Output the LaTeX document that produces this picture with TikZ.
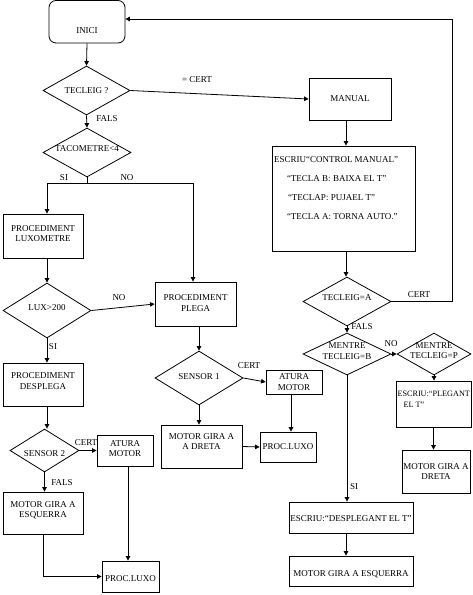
\documentclass[tikz,border=0pt]{standalone}
\usepackage{fontspec}
\setmainfont{Liberation Serif}
\usetikzlibrary{shapes.geometric,arrows.meta}
% zero-size centred text block, raised by #1 (up positive)
\newcommand\zc[2][0pt]{\makebox[0pt]{\raisebox{\dimexpr#1-3pt\relax}[0pt][0pt]{\begin{tabular}{@{}c@{}}#2\end{tabular}}}}
% zero-size left-aligned text block of width #2
\newcommand\zl[3][0pt]{\makebox[0pt]{\raisebox{\dimexpr#1-3pt\relax}[0pt][0pt]{\begin{tabular}{@{}p{#2}@{}}#3\end{tabular}}}}
\tikzset{
  every node/.style={font=\fontsize{9}{10.5}\selectfont},
  box/.style={draw,rectangle,line width=0.8pt,inner sep=0pt},
  dia/.style={draw,diamond,line width=0.8pt,inner sep=0pt},
  arr/.style={line width=0.8pt,-{Triangle[length=4.5pt,width=4.5pt]}},
  ln/.style={line width=0.8pt},
  lbl/.style={inner sep=0pt}
}
\begin{document}
\begin{tikzpicture}[x=1pt,y=-1pt]
\useasboundingbox (0,0) rectangle (473,595);
% top / right column
\node[box,rounded corners=7pt,minimum width=76pt,minimum height=42.5pt] (inici) at (87,21.75) {\zc[-9pt]{INICI}};
\node[dia,minimum width=87pt,minimum height=49pt] (teclq) at (86.5,90.5) {\zc{TECLEIG ?}};
\node[box,minimum width=82pt,minimum height=42pt] (manual) at (350,99) {\zc{MANUAL}};
\node[box,minimum width=143pt,minimum height=105pt] (escriu) at (343.5,198.5)
 {\zl[10.5pt]{139pt}{ESCRIU“CONTROL MANUAL”\\[8.5pt]\hspace*{13pt}“TECLA B: BAIXA EL T”\\[8.5pt]\hspace*{14pt}“TECLAP: PUJAEL T”\\[8.5pt]\hspace*{13pt}“TECLA A: TORNA AUTO.”}};
\node[dia,minimum width=88pt,minimum height=49pt] (tecA) at (347,301.5) {\zc[4pt]{TECLEIG=A}};
\node[dia,minimum width=88pt,minimum height=42pt] (mentreB) at (347,354) {\zc[3pt]{MENTRE\\TECLEIG=B}};
\node[dia,minimum width=74pt,minimum height=42pt] (mentreP) at (434,354) {\zc[3.5pt]{MENTRE\\TECLEIG=P}};
\node[box,minimum width=75pt,minimum height=46pt] (plegant) at (433.5,404) {\fontsize{8.2}{10.5}\selectfont\zl[5pt]{72pt}{ESCRIU:“PLEGANT\\\hspace*{6pt}EL T”}};
\node[box,minimum width=68pt,minimum height=43pt] (dretaR) at (436,471.5) {\zc{MOTOR GIRA A\\DRETA}};
\node[box,minimum width=124pt,minimum height=31pt] (desplegant) at (351,517.5) {\zc[-1.5pt]{ESCRIU:“DESPLEGANT EL T”}};
\node[box,minimum width=124pt,minimum height=30pt] (esquerraR) at (351,571) {\zc[-3pt]{MOTOR GIRA A ESQUERRA}};
% left column
\node[dia,minimum width=88pt,minimum height=49pt] (tacom) at (87,152.5) {\zc[3.5pt]{TACOMETRE<4}};
\node[box,minimum width=80pt,minimum height=44pt] (luxo) at (43,236) {\zc[2.5pt]{PROCEDIMENT\\LUXOMETRE}};
\node[dia,minimum width=88pt,minimum height=55pt] (lux) at (47,310.5) {\zc[2.5pt]{LUX>200}};
\node[box,minimum width=80pt,minimum height=43pt] (despl) at (43,384.5) {\zc[3.5pt]{PROCEDIMENT\\DESPLEGA}};
\node[dia,minimum width=69pt,minimum height=43pt] (sensor2) at (44.5,450.5) {\zc[-3pt]{SENSOR 2}};
\node[box,minimum width=56pt,minimum height=31pt] (atura2) at (125,450.5) {\zc[2pt]{ATURA\\MOTOR}};
\node[box,minimum width=80pt,minimum height=42pt] (esq2) at (43,513) {\zc[3.5pt]{MOTOR GIRA A\\ESQUERRA}};
\node[box,minimum width=57pt,minimum height=31pt] (luxo2) at (130.5,576.5) {\zc[-2.5pt]{PROC.LUXO}};
% middle column
\node[box,minimum width=81pt,minimum height=44pt] (plega) at (195.5,304) {\zc[1pt]{PROCEDIMENT\\PLEGA}};
\node[dia,minimum width=88pt,minimum height=54pt] (sensor1) at (199,378) {\zc[1pt]{SENSOR 1}};
\node[box,minimum width=56pt,minimum height=24pt] (atura1) at (294,382) {\zc{ATURA\\MOTOR}};
\node[box,minimum width=56pt,minimum height=30pt] (luxo1) at (288,447) {\zc{PROC.LUXO}};
\node[box,minimum width=81pt,minimum height=43pt] (dreta1) at (201.5,446.5) {\zc[5pt]{MOTOR GIRA A\\A DRETA}};
% helper coordinates
\coordinate (ret) at (452,19);
\coordinate (sl) at (47,183);
\coordinate (sr) at (193,183);
\coordinate (c128) at (128,0);
\coordinate (c291) at (291,0);
\coordinate (c346) at (346,0);
% connectors: right part
\draw[arr] (inici.south) -- (teclq.north);
\draw[arr] (teclq.east) -- (manual.west);
\draw[arr] (manual.south -| c346) -- (escriu.north -| c346);
\draw[arr] (escriu.south -| c346) -- (tecA.north -| c346);
\draw[arr] (tecA.east) -| (ret) -- (inici.east |- ret);
\draw[arr] (tecA.south) -- (mentreB.north);
\draw[arr] (mentreB.east) -- (mentreP.west);
\draw[arr] (mentreP.south) -- (plegant.north -| mentreP.south);
\draw[arr] (plegant.south) -- (dretaR.north -| plegant.south);
\draw[arr] (mentreB.south) -- (desplegant.north -| mentreB.south);
\draw[arr] (desplegant.south -| c346) -- (esquerraR.north -| c346);
% connectors: left part
\draw[arr] (teclq.south) -- (tacom.north);
\draw[ln] (tacom.south) -- (tacom.south |- sl);
\draw[ln] (sl) -- (sr);
\draw[arr] (sl) -- (sl |- luxo.north);
\draw[arr] (sr) -- (sr |- plega.north);
\draw[arr] (luxo.south -| sl) -- (lux.north);
\draw[arr] (lux.east) -- (plega.west);
\draw[arr] (lux.south) -- (lux.south |- despl.north);
\draw[arr] (despl.south -| lux.south) -- (sensor2.north -| lux.south);
\draw[arr] (sensor2.east) -- (atura2.west);
\draw[arr] (sensor2.south) -- (esq2.north -| sensor2.south);
\draw[arr] (atura2.south -| c128) -- (luxo2.north -| c128);
\draw[arr] (esq2.south) |- (luxo2.west);
% connectors: middle
\draw[arr] (plega.south -| sensor1.north) -- (sensor1.north);
\draw[arr] (sensor1.east) -- (atura1.west);
\draw[arr] (atura1.south -| c291) -- (luxo1.north -| c291);
\draw[arr] (sensor1.south) -- (dreta1.north -| sensor1.south);
\draw[arr] (dreta1.east) -- (luxo1.west);
% labels
\node[lbl] (l1) at (197,80) {= CERT};
\node[lbl] (l2) at (419,295) {CERT};
\node[lbl] (l3) at (107,119) {FALS};
\node[lbl] (l4) at (64,178) {SI};
\node[lbl] (l5) at (127,178) {NO};
\node[lbl] (l6) at (119,298) {NO};
\node[lbl] (l7) at (53,347) {SI};
\node[lbl] (l8) at (249,366) {CERT};
\node[lbl] (l9) at (86,443) {CERT};
\node[lbl] (l10) at (62,483) {FALS};
\node[lbl] (l11) at (362,327) {FALS};
\node[lbl] (l12) at (391,344) {NO};
\node[lbl] (l13) at (354,487) {SI};
\end{tikzpicture}
\end{document}
